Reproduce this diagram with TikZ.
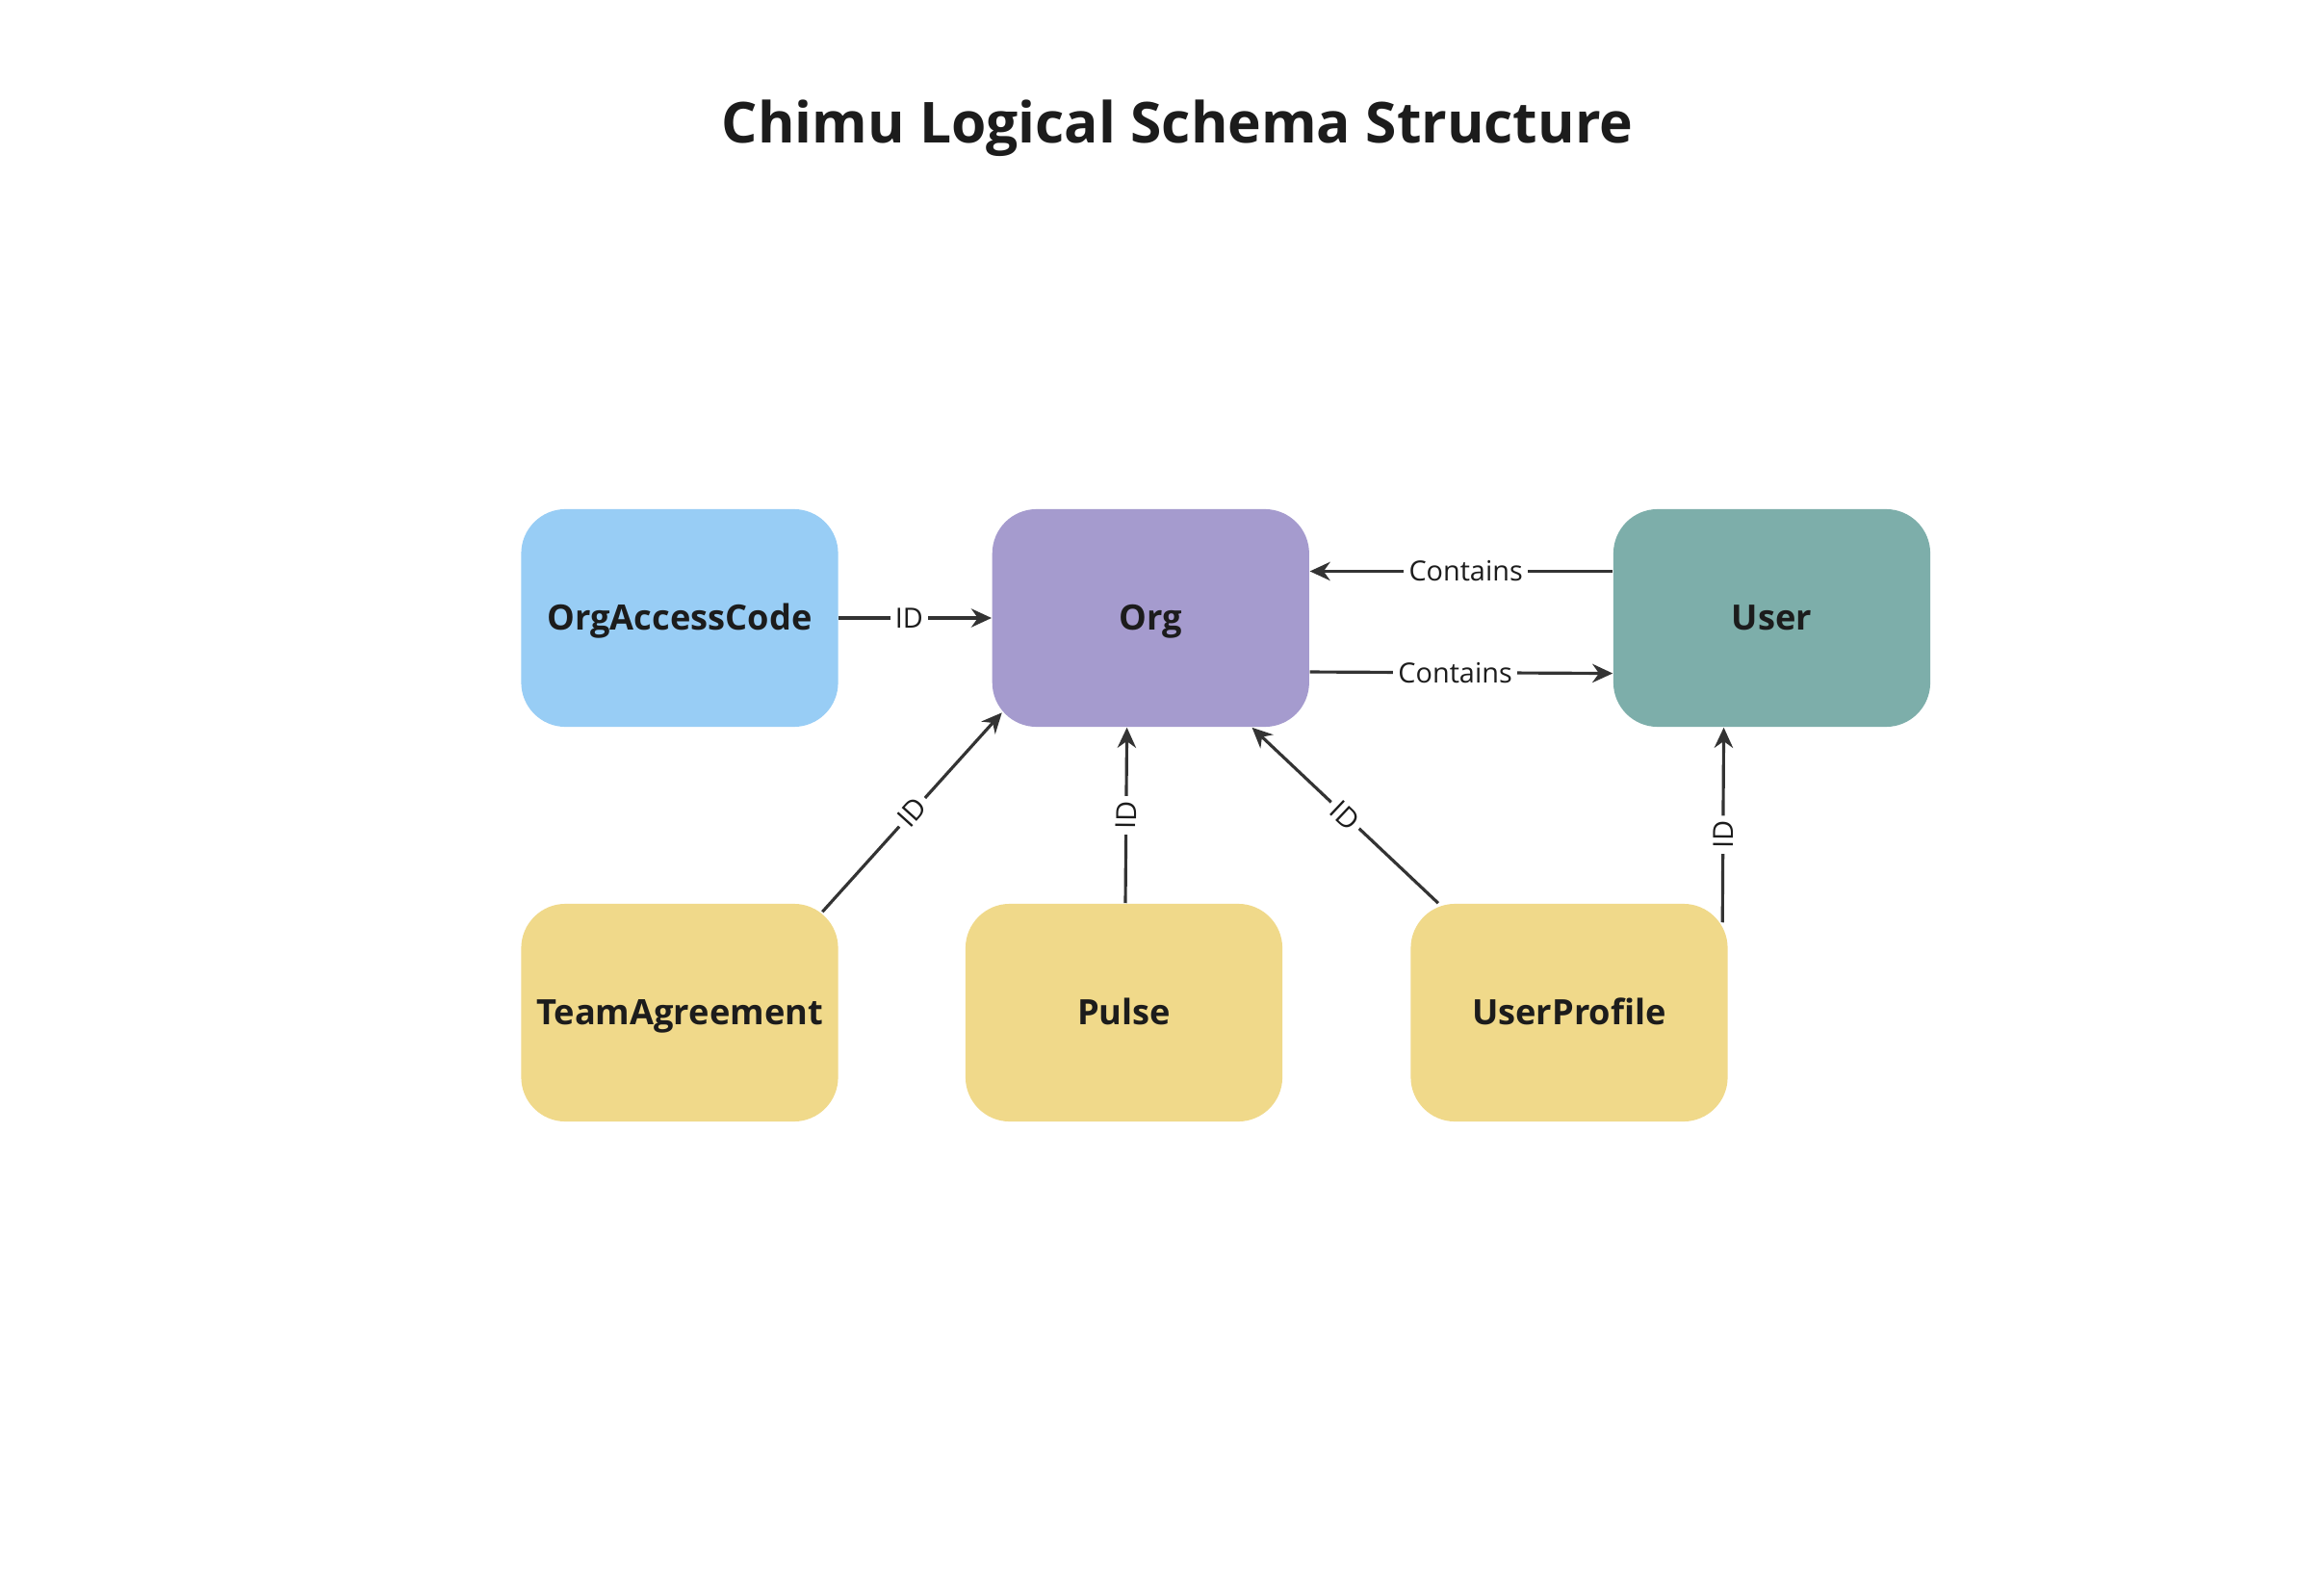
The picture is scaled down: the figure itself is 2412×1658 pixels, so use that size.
\documentclass[tikz,border=0pt]{standalone}
\usepackage{fontspec}
\setmainfont{Open Sans}
\usetikzlibrary{arrows.meta}
\definecolor{cBlue}{HTML}{98CDF5}
\definecolor{cPurple}{HTML}{A59BCE}
\definecolor{cTeal}{HTML}{7DAEAA}
\definecolor{cYellow}{HTML}{F0D98A}
\definecolor{cInk}{HTML}{1C1C1C}
\definecolor{cLine}{HTML}{333333}
\tikzset{
  entity/.style={rectangle, rounded corners=0.46cm, minimum width=3.29cm, minimum height=2.26cm,
    inner sep=0pt, text height=0.72em, text depth=0pt,
    font=\fontsize{10.3}{12}\selectfont\bfseries, text=cInk},
  conn/.style={draw=cLine, line width=0.9pt, -{Stealth[length=6pt,width=5.5pt]}},
  lbl/.style={fill=white, inner sep=1.5pt, font=\fontsize{8.2}{10}\selectfont, text=cInk}
}
\begin{document}
\begin{tikzpicture}[x=0.01cm,y=-0.01cm]
\useasboundingbox[fill=white] (0,0) rectangle (2412,1658);
\node[font=\fontsize{16.7}{20}\selectfont\bfseries, text=cInk, text height=0.72em, text depth=0pt] (title) at (1223,136) {Chimu Logical Schema Structure};
\node[entity, fill=cBlue] (oac) at (706,642) {OrgAccessCode};
\node[entity, fill=cPurple] (org) at (1195.3,642) {Org};
\node[entity, fill=cTeal] (user) at (1840.5,642) {User};
\node[entity, fill=cYellow] (ta) at (706,1052) {TeamAgreement};
\node[entity, fill=cYellow] (pulse) at (1167.5,1052) {Pulse};
\node[entity, fill=cYellow] (up) at (1630,1052) {UserProfile};

\draw[conn] (oac.east) -- node[lbl, pos=0.46] {ID} (org.west);
\draw[conn] ([yshift=0.485cm]user.west) -- node[lbl, pos=0.485] {Contains} ([yshift=0.485cm]org.east);
\draw[conn] ([yshift=-0.56cm]org.east) -- node[lbl, pos=0.48] {Contains} ([yshift=-0.575cm]user.west);
\draw[conn] ([xshift=-0.17cm,yshift=-0.09cm]ta.north east) -- node[lbl, sloped] {ID} ([xshift=0.107cm,yshift=0.154cm]org.south west);
\draw[conn] ([xshift=0.015cm]pulse.north) -- node[lbl, sloped] {ID} ([xshift=-0.247cm]org.south);
\draw[conn] ([xshift=0.292cm]up.north west) -- node[lbl, sloped] {ID} ([xshift=-0.6cm]org.south east);
\draw[conn] ([xshift=-0.061cm,yshift=-0.2cm]up.north east) -- node[lbl, sloped, pos=0.45] {ID} ([xshift=-0.499cm]user.south);
\end{tikzpicture}
\end{document}
